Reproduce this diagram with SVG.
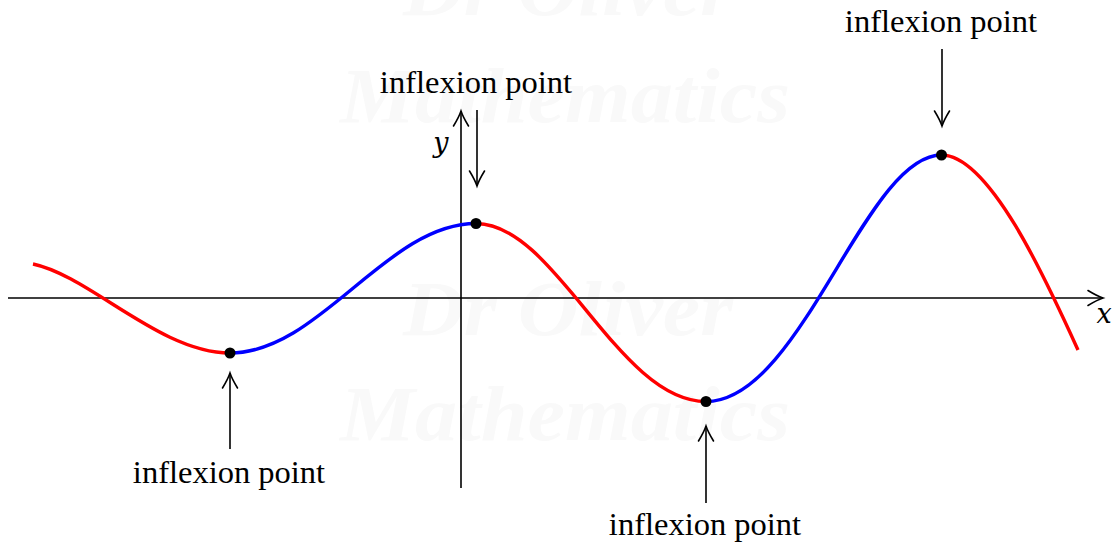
<svg xmlns="http://www.w3.org/2000/svg" width="1116" height="546" viewBox="0 0 1116 546">
<style>
.wm{font-family:'Liberation Serif',serif;font-style:italic;font-weight:bold;font-size:78px;fill:#f9f9f9}
.lbl{font-family:'Times New Roman','Liberation Serif',serif;font-size:32.5px;fill:#000;text-anchor:middle}
.var{font-family:'DejaVu Serif',serif;font-style:italic;font-size:27px;fill:#000;text-anchor:middle}
.arrow{stroke:#000;stroke-width:1.6;fill:none;marker-end:url(#arr)}
.red{stroke:#ff0000;stroke-width:3.4;fill:none}
.blue{stroke:#0000ff;stroke-width:3.4;fill:none}
.dot{fill:#000}
</style>
<defs>
<marker id="arr" markerUnits="userSpaceOnUse" viewBox="-17 -10 20 20" markerWidth="20" markerHeight="20" refX="0" refY="0" orient="auto" overflow="visible">
<path d="M -15 -7.5 Q -6 -2 0 0 Q -6 2 -15 7.5" stroke="#000" stroke-width="1.6" fill="none" stroke-linecap="round"/>
</marker>
</defs>
<rect width="1116" height="546" fill="#fff"/>
<g id="watermark">
<text class="wm" x="403" y="15" textLength="330" lengthAdjust="spacingAndGlyphs">Dr Oliver</text>
<text class="wm" x="340" y="122" textLength="450" lengthAdjust="spacingAndGlyphs">Mathematics</text>
<text class="wm" x="403" y="335" textLength="330" lengthAdjust="spacingAndGlyphs">Dr Oliver</text>
<text class="wm" x="340" y="440" textLength="450" lengthAdjust="spacingAndGlyphs">Mathematics</text>
</g>
<g id="axes">
<line class="arrow" x1="8" y1="298" x2="1103" y2="298"/>
<line class="arrow" x1="461" y1="488" x2="461" y2="111"/>
<text class="var" x="441" y="152">y</text>
<text class="var" x="1104" y="323">x</text>
</g>
<g id="curve">
<path class="red" d="M33,264 C90,276 160,353 230,353"/>
<path class="blue" d="M230,353 C319.5,353 386.5,223.5 476,223.5"/>
<path class="red" d="M476,223.5 C556,223.5 618,401.5 706,401.5"/>
<path class="blue" d="M706,401.5 C801,401.5 865,155 941.5,155"/>
<path class="red" d="M941.5,155 C990,155 1048,284 1078,350"/>
</g>
<g id="connectors">
<line class="arrow" x1="942" y1="49" x2="942" y2="126"/>
<line class="arrow" x1="477" y1="110" x2="477" y2="186"/>
<line class="arrow" x1="230" y1="449" x2="230" y2="373"/>
<line class="arrow" x1="706" y1="503" x2="706" y2="426"/>
</g>
<g id="p1"><circle class="dot" cx="230" cy="353" r="5.5"/><text class="lbl" x="229" y="483">inflexion point</text></g>
<g id="p2"><circle class="dot" cx="476" cy="223.5" r="5.5"/><text class="lbl" x="476" y="93">inflexion point</text></g>
<g id="p3"><circle class="dot" cx="706" cy="401.5" r="5.5"/><text class="lbl" x="705" y="535">inflexion point</text></g>
<g id="p4"><circle class="dot" cx="941.5" cy="155" r="5.5"/><text class="lbl" x="941" y="32">inflexion point</text></g>
</svg>
